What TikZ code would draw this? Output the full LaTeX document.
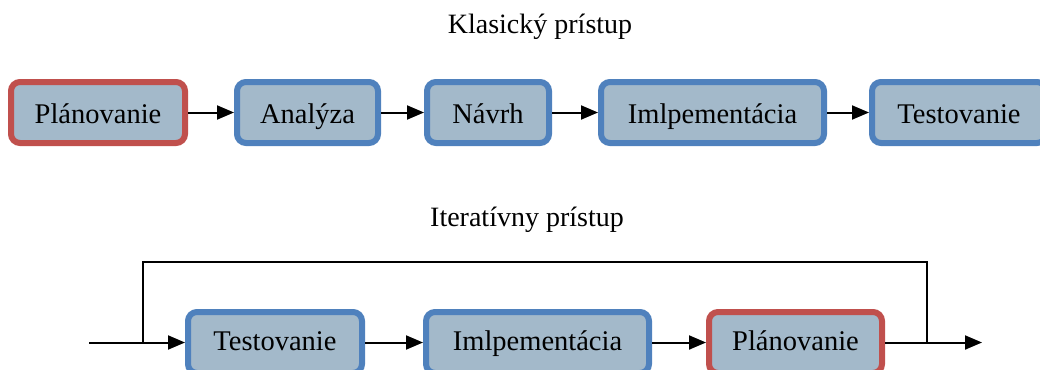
\documentclass[tikz,border=0pt]{standalone}
\usepackage{fontspec}
\setmainfont{Liberation Serif}
\usetikzlibrary{arrows.meta}
\definecolor{boxfill}{RGB}{163,185,202}
\definecolor{boxblue}{RGB}{79,129,189}
\definecolor{boxred}{RGB}{192,80,77}
\tikzset{
  stage/.style={draw=boxblue, fill=boxfill, line width=6pt, rounded corners=9pt,
    minimum height=61pt, inner sep=0pt, text height=21pt, text depth=0pt,
    font=\fontsize{28.5}{30}\selectfont},
  redstage/.style={stage, draw=boxred},
  lowstage/.style={text height=16pt},
  title/.style={font=\fontsize{28}{30}\selectfont, inner sep=0pt},
  flow/.style={line width=2pt, -{Triangle[length=17pt, width=14pt]}},
  loop/.style={line width=2pt}
}
\begin{document}
\begin{tikzpicture}[x=1pt, y=-1pt]
\useasboundingbox (0,0) rectangle (1040,369);
\clip (0,0) rectangle (1040,369);
\node[title] (t1) at (540,27) {Klasický prístup};
\node[title] (t2) at (527,220) {Iteratívny prístup};
% top row
\node[redstage, minimum width=174pt] (a1) at (98,112.5) {Plánovanie};
\node[stage, minimum width=141pt] (a2) at (307.5,112.5) {Analýza};
\node[stage, minimum width=122pt] (a3) at (488,112.5) {Návrh};
\node[stage, minimum width=223pt] (a4) at (712.5,112.5) {Imlpementácia};
\node[stage, minimum width=174pt] (a5) at (959,112.5) {Testovanie};
\draw[flow] (a1) -- (a2);
\draw[flow] (a2) -- (a3);
\draw[flow] (a3) -- (a4);
\draw[flow] (a4) -- (a5);
% bottom row
\node[stage, lowstage, minimum width=174pt] (b1) at (275,342.5) {Testovanie};
\node[stage, lowstage, minimum width=223pt] (b2) at (537.5,342.5) {Imlpementácia};
\node[redstage, lowstage, minimum width=173pt] (b3) at (795.5,342.5) {Plánovanie};
\coordinate (in) at (89,342.5);
\coordinate (jl) at (143,342.5);
\coordinate (jr) at (927,342.5);
\coordinate (out) at (982,342.5);
\draw[flow] (in) -- (b1);
\draw[flow] (b1) -- (b2);
\draw[flow] (b2) -- (b3);
\draw[flow] (b3) -- (out);
\draw[loop] (jl) -- (143,262) -- (927,262) -- (jr);
\end{tikzpicture}
\end{document}
